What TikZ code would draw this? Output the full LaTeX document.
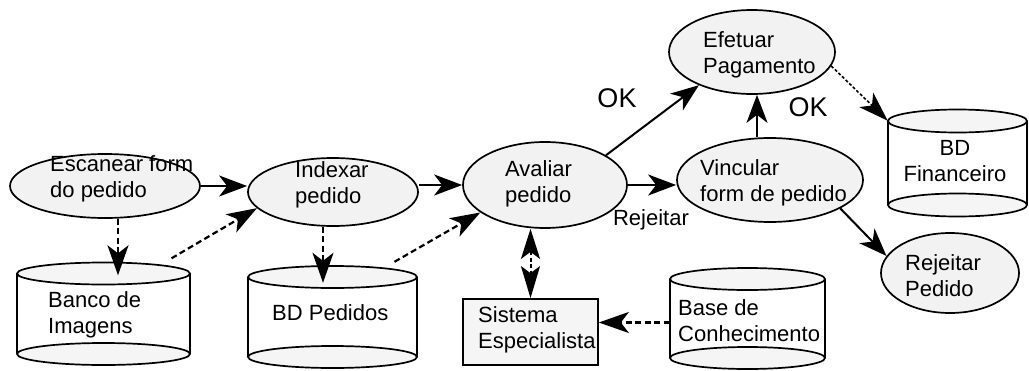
\documentclass[tikz,border=0pt]{standalone}
\usepackage{fontspec}
\setmainfont{Liberation Sans}
\usetikzlibrary{arrows.meta,shapes.geometric}

\definecolor{procfill}{gray}{0.95}
\definecolor{capfill}{gray}{0.96}

\tikzset{
  proc/.style={ellipse, draw, line width=1.7pt, fill=procfill, inner sep=0pt},
  sysbox/.style={rectangle, draw, line width=1.7pt, fill=capfill, inner sep=0pt},
  drumarea/.style={rectangle, draw=none, inner sep=0pt},
  txt/.style={inner sep=0pt, align=left, anchor=west, font=\fontsize{22}{26}\selectfont},
  ctxt/.style={inner sep=0pt, align=center, anchor=center, font=\fontsize{22}{26}\selectfont},
  oktxt/.style={inner sep=0pt, anchor=center, font=\fontsize{27}{30}\selectfont},
  head/.style={-{Stealth[length=28pt,width=21pt,inset=8pt]}},
  flow/.style={head, line width=2pt},
  dataflow/.style={-{Stealth[length=30pt,width=21pt,inset=8pt]}, line width=2.2pt, dash pattern=on 6pt off 3.5pt},
  thinflow/.style={-{Stealth[length=30pt,width=20pt,inset=8pt]}, line width=1.6pt, dash pattern=on 3pt off 2pt},
  twoway/.style={{Stealth[length=30pt,width=19pt,inset=7pt]}-{Stealth[length=32pt,width=19pt,inset=7pt]}, line width=2pt, dash pattern=on 4pt off 2.5pt},
}

% database drum: centre x, top cap y, bottom cap y, half width, cap radius
\newcommand\drum[5]{%
  \fill[white] (#1-#4,#2) rectangle (#1+#4,#3);
  \draw[line width=1.7pt] (#1-#4,#2) -- (#1-#4,#3) (#1+#4,#2) -- (#1+#4,#3);
  \draw[line width=1.7pt, fill=capfill] (#1,#3) ellipse [x radius=#4, y radius=#5];
  \draw[line width=1.7pt, fill=capfill] (#1,#2) ellipse [x radius=#4, y radius=#5];
}

\begin{document}
\begin{tikzpicture}[x=1pt,y=-1pt]
\useasboundingbox (0,0) rectangle (1029,370);

% processes
\node[proc, minimum width=190pt, minimum height=64pt] (esc) at (105,186) {};
\node[proc, minimum width=170pt, minimum height=68pt] (idx) at (333,192) {};
\node[proc, minimum width=164pt, minimum height=86pt] (avl) at (545,185) {};
\node[proc, minimum width=186pt, minimum height=84pt] (vin) at (770,180) {};
\node[proc, minimum width=166pt, minimum height=84pt] (eft) at (752,52) {};
\node[proc, minimum width=138pt, minimum height=80pt] (rej) at (950,273) {};

% stores
\drum{103.5}{273.5}{354}{86.5}{11}
\node[drumarea, minimum width=173pt, minimum height=80.5pt] (bdimg) at (103.5,313.75) {};
\drum{332.5}{277}{357}{84.5}{11}
\node[drumarea, minimum width=169pt, minimum height=80pt] (bdped) at (332.5,317) {};
\drum{747.5}{279}{358}{77.5}{11}
\node[drumarea, minimum width=155pt, minimum height=79pt] (base) at (747.5,318.5) {};
\drum{957.5}{121}{205}{69.5}{11.5}
\node[drumarea, minimum width=139pt, minimum height=84pt] (bdfin) at (957.5,163) {};

% expert system
\node[sysbox, minimum width=135pt, minimum height=66pt] (sist) at (530.5,332) {};

% texts
\node[txt] (t-esc) at (50,179) {Escanear form\\do pedido};
\node[txt] (t-idx) at (295,185) {Indexar\\pedido};
\node[txt] (t-avl) at (505,184) {Avaliar\\pedido};
\node[txt] (t-vin) at (700,183) {Vincular\\form de pedido};
\node[txt] (t-eft) at (703,55) {Efetuar\\Pagamento};
\node[txt] (t-rej) at (905,276) {Rejeitar\\Pedido};
\node[ctxt] (t-bdfin) at (955,161) {BD\\Financeiro};
\node[txt] (t-bdimg) at (48,315) {Banco de\\Imagens};
\node[txt] (t-bdped) at (272,313) {BD Pedidos};
\node[txt] (t-base) at (678,321) {Base de\\Conhecimento};
\node[txt] (t-sist) at (478,330) {Sistema\\Especialista};
\node[ctxt] (l-rej) at (651,220) {Rejeitar};
\node[oktxt] (l-ok1) at (617,98) {OK};
\node[oktxt] (l-ok2) at (808,107) {OK};

% control flow
\draw[flow] (esc.east) -- (esc.east -| idx.west);
\draw[flow] (idx.east |- avl.west) -- (avl.west);
\draw[flow] (avl.east) -- (avl.east -| vin.west);
\draw[flow] (avl.26) -- (eft.212);
\draw[flow] ([xshift=-13pt]vin.north) -- ([xshift=-13pt]vin.north |- eft.south);
\draw[flow] (vin.-22) -- (rej.165);

% data flow
\draw[dataflow] ([xshift=13pt]esc.south) -- ([xshift=13pt,yshift=-2pt]esc.south |- bdimg.north);
\draw[dataflow] ([xshift=68pt,yshift=15pt]bdimg.north) -- (idx.192);
\draw[dataflow] ([xshift=-10pt]idx.south) -- ([xshift=-10pt,yshift=-6pt]idx.south |- bdped.north);
\draw[dataflow] ([xshift=62pt,yshift=15pt]bdped.north) -- (avl.203);
\draw[dataflow] ([yshift=-4pt]base.west) -- ([yshift=-4pt]base.west -| sist.east);
\draw[twoway] (avl.south -| sist.north) -- (sist.north);
\draw[thinflow] (eft.-10) -- (bdfin.north west);
\end{tikzpicture}
\end{document}
